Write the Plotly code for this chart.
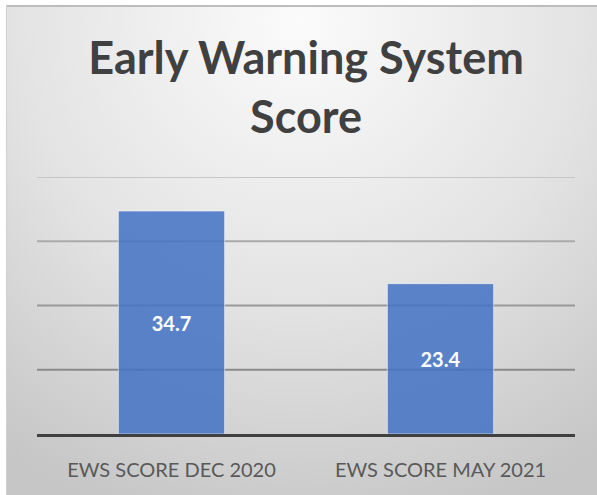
import base64
import plotly.graph_objects as go

# ---- data ----
categories = ["EWS SCORE DEC 2020", "EWS SCORE MAY 2021"]
scores = [34.7, 23.4]
score_labels = ["34.7", "23.4"]
grid_values = [10, 20, 30, 40]
title_text = "Early Warning System<br>Score"

# ---- background (radial gray gradient with frame) ----
W, H = 597, 495
svg = f'''<svg xmlns="http://www.w3.org/2000/svg" width="{W}" height="{H}" viewBox="0 0 {W} {H}">
<defs><radialGradient id="g" gradientUnits="userSpaceOnUse" cx="300" cy="20" r="520">
<stop offset="0" stop-color="#fbfbfb"/><stop offset="0.55" stop-color="#e3e3e3"/><stop offset="1" stop-color="#c6c6c6"/>
</radialGradient></defs>
<rect x="0" y="0" width="{W}" height="{H}" fill="#ffffff"/>
<rect x="6" y="5" width="{W}" height="{H}" fill="url(#g)"/>
<line x1="6" y1="6" x2="{W}" y2="6" stroke="#bdbdbd" stroke-width="2"/>
<line x1="6.5" y1="5" x2="6.5" y2="{H}" stroke="#d0d0d0" stroke-width="1"/>
</svg>'''
src = "data:image/svg+xml;base64," + base64.b64encode(svg.encode()).decode()

fig = go.Figure()
fig.add_trace(go.Bar(
    x=categories, y=scores, text=score_labels,
    textposition="inside", insidetextanchor="middle", textangle=0,
    textfont=dict(family="Lato", size=20, color="white", weight="bold"),
    marker=dict(color="rgba(68,114,196,0.86)", line=dict(color="rgba(255,255,255,0.55)", width=1)),
    hoverinfo="skip",
))

# gridlines with a vertical gradient (lighter toward the top)
grid_colors = ["#8a8a8a", "#999999", "#aaaaaa", "#c6c6c6"]
for v, c in zip(grid_values, grid_colors):
    fig.add_shape(type="line", xref="paper", x0=0, x1=1, yref="y", y0=v, y1=v,
                  line=dict(color=c, width=2), layer="below")

fig.update_layout(
    width=W, height=H,
    margin=dict(l=37, r=22, t=177, b=61),
    paper_bgcolor="rgba(0,0,0,0)", plot_bgcolor="rgba(0,0,0,0)",
    images=[dict(source=src, xref="paper", yref="paper", x=-37/538, y=1 + 177/257,
                 sizex=W/538, sizey=H/257, xanchor="left", yanchor="top",
                 sizing="stretch", layer="below")],
    title=dict(text=title_text, x=0.5, xref="paper", xanchor="center",
               y=1 - 74/495, yref="container", yanchor="top",
               font=dict(family="Lato", size=45, color="#404040", weight="bold")),
    bargap=0.605,
    showlegend=False,
    font=dict(family="Lato"),
)
fig.update_xaxes(showline=True, linecolor="#404040", linewidth=3, showgrid=False,
                 ticks="", ticklabelstandoff=16,
                 tickfont=dict(family="Lato", size=20, color="#595959"), fixedrange=True)
fig.update_yaxes(range=[0, 40], showgrid=False, zeroline=False, showticklabels=False,
                 fixedrange=True)

fig.write_html("out.html", config={"displayModeBar": False},
               post_script="document.body.style.margin='0';document.body.style.overflow='hidden';")
